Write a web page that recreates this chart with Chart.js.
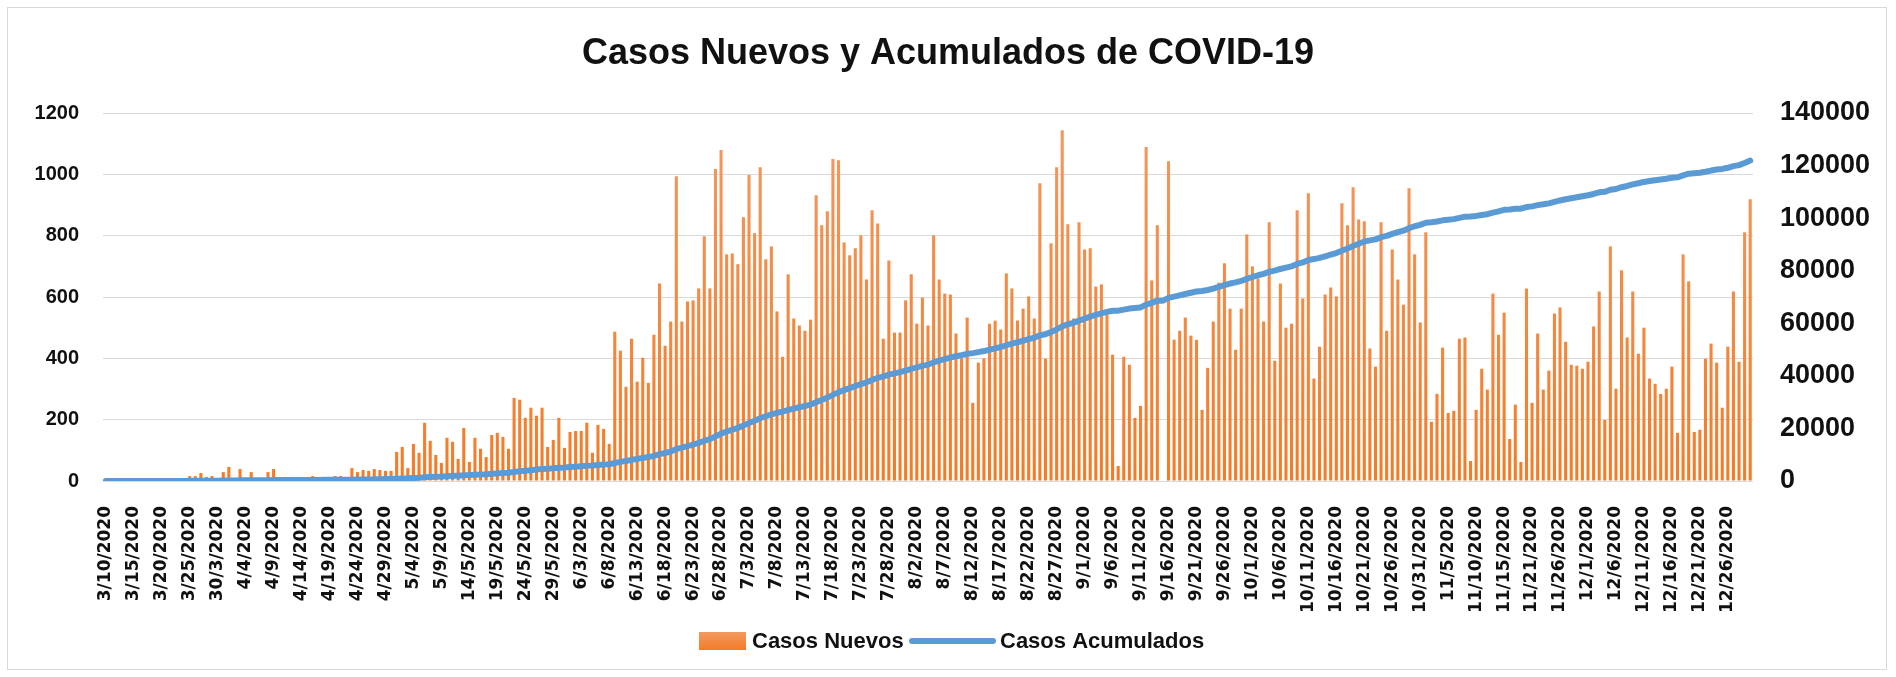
<!DOCTYPE html>
<html>
<head>
<meta charset="utf-8">
<script src="https://cdn.jsdelivr.net/npm/chart.js@4"></script>
<style>
  html, body { margin: 0; padding: 0; background: #fff; }
  canvas { display: block; }
</style>
</head>
<body>
<canvas id="grafico" width="1896" height="677"></canvas>
<script>
// etiquetas visibles del eje x (una cada 5 dias, tal como aparecen)
const tickLabels = ['3/10/2020','3/15/2020','3/20/2020','3/25/2020','30/3/2020','4/4/2020','4/9/2020','4/14/2020','4/19/2020','4/24/2020','4/29/2020','5/4/2020','5/9/2020','14/5/2020','19/5/2020','24/5/2020','29/5/2020','6/3/2020','6/8/2020','6/13/2020','6/18/2020','6/23/2020','6/28/2020','7/3/2020','7/8/2020','7/13/2020','7/18/2020','7/23/2020','7/28/2020','8/2/2020','8/7/2020','8/12/2020','8/17/2020','8/22/2020','8/27/2020','9/1/2020','9/6/2020','9/11/2020','9/16/2020','9/21/2020','9/26/2020','10/1/2020','10/6/2020','10/11/2020','10/16/2020','10/21/2020','10/26/2020','10/31/2020','11/5/2020','11/10/2020','11/15/2020','11/21/2020','11/26/2020','12/1/2020','12/6/2020','12/11/2020','12/16/2020','12/21/2020','12/26/2020'];

// dias del 10 de marzo al 30 de diciembre (falta el 18 de noviembre)
const fechas = [];
for (let d = new Date(2020, 2, 10); d <= new Date(2020, 11, 30); d.setDate(d.getDate() + 1)) {
  if (d.getMonth() === 10 && d.getDate() === 18) continue;
  fechas.push((d.getMonth() + 1) + '/' + d.getDate() + '/2020');
}

const casosNuevos = [
  2, 0, 0, 2, 0, 2, 3, 1, 4, 4, 3, 6, 3, 4, 6, 16, 16, 26, 13, 16, 6, 29, 46, 6, 39, 5, 29, 4, 6, 29,
  39, 5, 6, 4, 6, 5, 6, 16, 10, 10, 6, 16, 16, 6, 42, 29, 36, 33, 39, 36, 33, 33, 95, 111, 42, 121, 92, 190, 131, 85,
  59, 141, 128, 72, 173, 62, 141, 105, 78, 150, 157, 144, 105, 271, 265, 206, 239, 213, 239, 111, 134, 206, 108, 160, 163, 163, 190, 92, 183, 170, 121,
  487, 425, 307, 464, 324, 402, 320, 477, 644, 441, 520, 994, 520, 585, 589, 628, 798, 628, 1017, 1079, 739, 742, 707, 860, 998, 808, 1023, 723, 765, 553,
  405, 674, 530, 507, 490, 526, 932, 834, 880, 1050, 1046, 778, 736, 759, 801, 657, 883, 840, 464, 719, 484, 484, 589, 674, 513, 598, 507, 801, 657, 611,
  608, 481, 400, 533, 255, 386, 400, 513, 523, 494, 677, 628, 523, 562, 602, 530, 971, 399, 775, 1023, 1144, 837, 530, 844, 755, 759, 634, 641, 543, 412, 49,
  405, 379, 206, 245, 1089, 654, 834, 0, 1043, 461, 490, 533, 474, 461, 232, 369, 520, 647, 710, 562, 428, 562, 804, 700, 660, 520, 844, 392, 644, 500,
  513, 883, 595, 938, 334, 438, 608, 631, 602, 906, 834, 958, 853, 847, 432, 373, 844, 490, 755, 657, 575, 955, 739, 517, 811, 193, 284, 435, 222, 229, 464,
  468, 65, 232, 366, 298, 611, 477, 549, 137, 249, 62, 628, 255, 481, 298, 360, 546, 566, 454, 379, 376, 366, 389, 504, 618, 199, 765, 301, 687, 468,
  618, 415, 500, 334, 317, 284, 301, 373, 157, 739, 651, 160, 167, 399, 448, 386, 239, 438, 618, 389, 811, 919
];

const casosAcumulados = [
  2, 2, 2, 4, 4, 6, 9, 10, 14, 18, 21, 27, 30, 34, 40, 56, 72, 98, 111, 127, 133, 162, 208, 214, 253, 258, 287, 291, 297, 326,
  365, 370, 376, 380, 386, 391, 397, 413, 423, 433, 439, 455, 471, 477, 519, 548, 584, 617, 656, 692, 725, 758, 853, 964, 1006, 1127, 1219, 1409, 1540, 1625,
  1684, 1825, 1953, 2025, 2198, 2260, 2401, 2506, 2584, 2734, 2891, 3035, 3140, 3411, 3676, 3882, 4121, 4334, 4573, 4684, 4818, 5024, 5132, 5292, 5455, 5618, 5808, 5900, 6083, 6253, 6374,
  6861, 7286, 7593, 8057, 8381, 8783, 9103, 9580, 10224, 10665, 11185, 12179, 12699, 13284, 13873, 14501, 15299, 15927, 16944, 18023, 18762, 19504, 20211, 21071, 22069, 22877, 23900, 24623, 25388, 25941,
  26346, 27020, 27550, 28057, 28547, 29073, 30005, 30839, 31719, 32769, 33815, 34593, 35329, 36088, 36889, 37546, 38429, 39269, 39733, 40452, 40936, 41420, 42009, 42683, 43196, 43794, 44301, 45102, 45759, 46370,
  46978, 47459, 47859, 48392, 48647, 49033, 49433, 49946, 50469, 50963, 51640, 52268, 52791, 53353, 53955, 54485, 55456, 55855, 56630, 57653, 58797, 59634, 60164, 61008, 61763, 62522, 63156, 63797, 64340, 64752, 64801,
  65206, 65585, 65791, 66036, 67125, 67779, 68613, 68613, 69656, 70117, 70607, 71140, 71614, 72075, 72307, 72676, 73196, 73843, 74553, 75115, 75543, 76105, 76909, 77609, 78269, 78789, 79633, 80025, 80669, 81169,
  81682, 82565, 83160, 84098, 84432, 84870, 85478, 86109, 86711, 87617, 88451, 89409, 90262, 91109, 91541, 91914, 92758, 93248, 94003, 94660, 95235, 96190, 96929, 97446, 98257, 98450, 98734, 99169, 99391, 99620, 100084,
  100552, 100617, 100849, 101215, 101513, 102124, 102601, 103150, 103287, 103536, 103598, 104226, 104481, 104962, 105260, 105620, 106166, 106732, 107186, 107565, 107941, 108307, 108696, 109200, 109818, 110017, 110782, 111083, 111770, 112238,
  112856, 113271, 113771, 114105, 114422, 114706, 115007, 115380, 115537, 116276, 116927, 117087, 117254, 117653, 118101, 118487, 118726, 119164, 119782, 120171, 120982, 121901
];

const NARANJA = '#f5822d';
const AZUL = '#5b9bd5';

// degradado de las barras (mas claro arriba)
let degradado = null;
function colorBarra(context) {
  const { chart } = context;
  const area = chart.chartArea;
  if (!area) return NARANJA;
  if (!degradado) {
    degradado = chart.ctx.createLinearGradient(0, area.top, 0, area.bottom);
    degradado.addColorStop(0, '#f29a63');
    degradado.addColorStop(1, '#f57b25');
  }
  return degradado;
}

// marco del grafico + leyenda abajo
const marcoYLeyenda = {
  id: 'marcoYLeyenda',
  beforeDraw(chart) {
    const c = chart.ctx;
    c.save();
    c.fillStyle = '#fff';
    c.fillRect(0, 0, chart.width, chart.height);
    c.strokeStyle = '#d9d9d9';
    c.lineWidth = 1;
    c.strokeRect(7.5, 7.5, chart.width - 17, chart.height - 15);
    c.restore();
  },
  afterDraw(chart) {
    const c = chart.ctx;
    c.save();
    const y = 641;
    const g = c.createLinearGradient(0, y - 9, 0, y + 9);
    g.addColorStop(0, '#f29a63');
    g.addColorStop(1, '#f57b25');
    c.fillStyle = g;
    c.fillRect(699, y - 9, 47, 18);
    c.font = 'bold 22px "Liberation Sans"';
    c.fillStyle = '#111';
    c.textBaseline = 'middle';
    c.fillText('Casos Nuevos', 752, y + 1);
    c.strokeStyle = AZUL;
    c.lineWidth = 6;
    c.lineCap = 'round';
    c.beginPath();
    c.moveTo(912, y);
    c.lineTo(993, y);
    c.stroke();
    c.fillText('Casos Acumulados', 1000, y + 1);
    c.restore();
  }
};

new Chart(document.getElementById('grafico'), {
  data: {
    labels: fechas,
    datasets: [
      {
        type: 'bar',
        label: 'Casos Nuevos',
        data: casosNuevos,
        yAxisID: 'y',
        backgroundColor: colorBarra,
        categoryPercentage: 1.0,
        barPercentage: 0.55,
        order: 2
      },
      {
        type: 'line',
        label: 'Casos Acumulados',
        data: casosAcumulados,
        yAxisID: 'y1',
        borderColor: AZUL,
        borderWidth: 6,
        pointRadius: 0,
        tension: 0,
        borderCapStyle: 'round',
        borderJoinStyle: 'round',
        order: 1
      }
    ]
  },
  options: {
    responsive: false,
    animation: false,
    layout: { padding: { left: 0, right: 0, top: 0, bottom: 66 } },
    plugins: {
      legend: { display: false },
      tooltip: { enabled: false },
      title: {
        display: true,
        text: 'Casos Nuevos y Acumulados de COVID-19',
        color: '#111',
        font: { family: 'Liberation Sans', size: 36, weight: 'bold' },
        padding: { top: 32, bottom: 37.8 }
      }
    },
    scales: {
      x: {
        grid: { display: false },
        border: { display: false },
        ticks: {
          autoSkip: false,
          minRotation: 90,
          maxRotation: 90,
          padding: 17,
          color: '#111',
          font: { family: 'DejaVu Sans', size: 17, weight: 'bold' },
          callback: (v, i) => (i % 5 === 0 ? tickLabels[i / 5] : null)
        },
        afterFit: (s) => { s.height = 130; }
      },
      y: {
        position: 'left',
        min: 0,
        max: 1200,
        border: { display: false },
        grid: { color: '#d9d9d9', lineWidth: 1, drawTicks: false },
        ticks: {
          stepSize: 200,
          padding: 24,
          color: '#111',
          font: { family: 'Liberation Sans', size: 20, weight: 'bold' },
          callback: (v) => String(v)
        },
        afterFit: (s) => { s.width = 103; }
      },
      y1: {
        position: 'right',
        min: 0,
        max: 140000,
        border: { display: false },
        grid: { display: false, drawTicks: false },
        ticks: {
          stepSize: 20000,
          padding: 27,
          color: '#111',
          font: { family: 'Liberation Sans', size: 27, weight: 'bold' },
          callback: (v) => String(v)
        },
        afterFit: (s) => { s.width = 143; }
      }
    }
  },
  plugins: [marcoYLeyenda]
});
</script>
</body>
</html>
